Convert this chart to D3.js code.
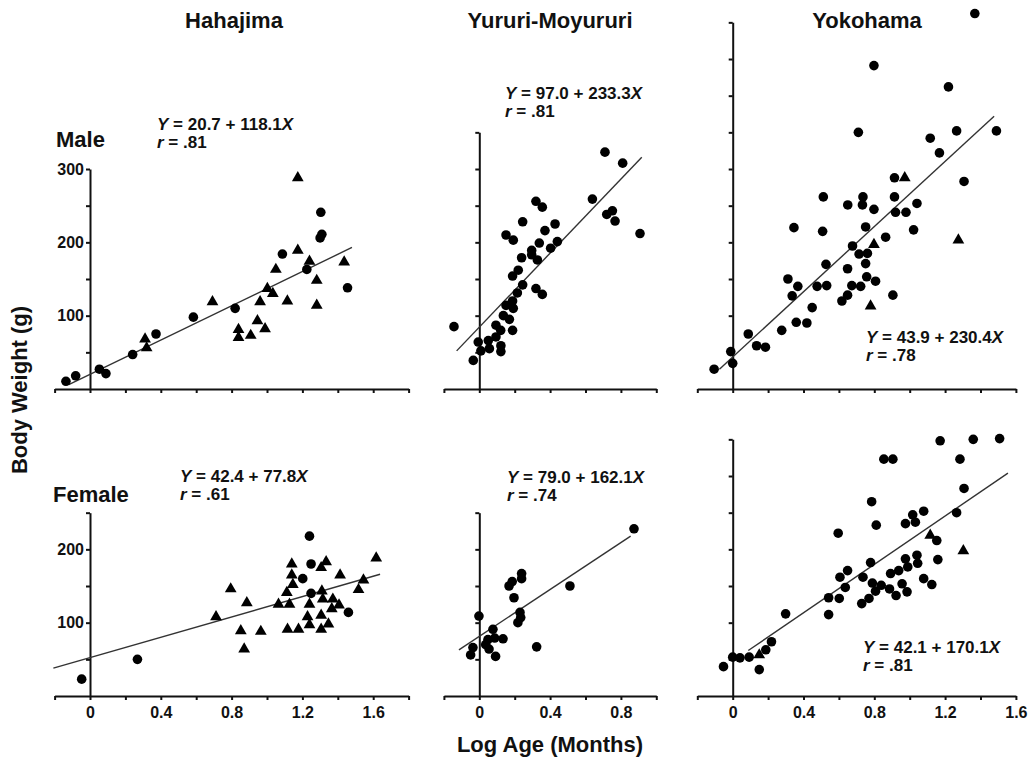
<!DOCTYPE html>
<html>
<head>
<meta charset="utf-8">
<script src="https://cdn.jsdelivr.net/npm/d3@7"></script>
<style>
  body { margin: 0; background: #fff; }
  svg text { font-family: "Liberation Sans", Arial, sans-serif; font-weight: bold; fill: #111; }
</style>
</head>
<body>
<div id="chart"></div>
<script>
// ---- data: [log age, body weight] ----
var hahaMaleCircles = [[-0.136,10.5],[-0.081,18],[0.053,27],[0.09,21],[0.241,47],[0.373,75],[0.584,98],
  [0.82,110],[1.087,184],[1.225,163],[1.30,206],[1.31,211],[1.304,241],[1.455,138]];
var hahaMaleTriangles = [[0.311,68],[0.32,56],[0.692,119],[0.839,81],[0.839,70],[0.908,73],[0.946,93],
  [0.961,119],[0.989,82],[1.002,137],[1.033,130],[1.05,163],[1.115,120],[1.174,288],[1.174,189],
  [1.24,174],[1.281,148],[1.281,114],[1.436,173]];

var yuruMaleCircles = [[-0.143,85],[-0.034,39],[-0.006,64],[0.009,52],[0.051,66],[0.057,55],[0.094,71],
  [0.094,87],[0.121,80],[0.122,59],[0.122,51],[0.136,100],[0.151,114],[0.170,95],[0.188,80],[0.192,110],
  [0.188,120],[0.188,154],[0.215,131],[0.220,162],[0.151,210],[0.192,203],[0.239,179],[0.245,142],
  [0.245,228],[0.296,189],[0.296,183],[0.32,256],[0.356,248],[0.328,176],[0.339,199],[0.32,137],
  [0.356,129],[0.371,216],[0.403,192],[0.428,225],[0.441,201],[0.639,259],[0.710,323],[0.720,238],
  [0.752,243],[0.767,229],[0.810,308],[0.908,212]];
var yuruMaleTriangles = [];

var yokoMaleCircles = [[-0.105,27],[-0.011,51],[0,35],[0.088,75],[0.135,59],[0.185,57],[0.277,80],
  [0.312,150],[0.336,127],[0.359,91],[0.368,140],[0.346,220],[0.419,90],[0.449,111],[0.477,140],
  [0.508,215],[0.512,262],[0.527,170],[0.531,141],[0.617,120],[0.649,128],[0.649,164],[0.650,251],
  [0.673,141],[0.677,195],[0.710,350],[0.714,184],[0.723,140],[0.733,251],[0.736,262],[0.751,221],
  [0.751,171],[0.761,185],[0.757,153],[0.798,441],[0.798,245],[0.807,147],[0.864,207],[0.905,128],
  [0.914,262],[0.914,288],[0.920,241],[0.979,241],[1.022,217],[1.041,253],[1.116,342],[1.168,322],
  [1.219,412],[1.265,352],[1.307,283],[1.368,512],[1.490,352]];
var yokoMaleTriangles = [[0.779,113],[0.798,197],[0.972,288],[1.275,203]];

var hahaFemaleCircles = [[-0.047,23],[0.268,50],[1.202,160],[1.240,218],[1.249,180],[1.249,140],[1.460,114]];
var hahaFemaleTriangles = [[0.712,108],[0.795,146],[0.886,127],[0.852,89],[0.871,64],[0.965,88],
  [1.065,125],[1.112,141],[1.116,91],[1.127,125],[1.140,180],[1.140,165],[1.146,152],[1.178,91],
  [1.229,108],[1.240,125],[1.240,97],[1.306,175],[1.310,143],[1.315,132],[1.306,110],[1.306,91],
  [1.334,183],[1.347,98],[1.366,119],[1.372,132],[1.407,124],[1.413,165],[1.517,145],[1.545,158],[1.617,188]];

var yuruFemaleCircles = [[-0.049,56],[-0.036,66],[-0.002,109],[0.036,70],[0.049,77],[0.055,64],[0.077,91],
  [0.087,79],[0.092,54],[0.134,78],[0.168,150],[0.186,156],[0.196,134],[0.218,100],[0.230,114],
  [0.234,107],[0.239,167],[0.239,160],[0.324,67],[0.512,150],[0.874,228]];
var yuruFemaleTriangles = [];

var yokoFemaleCircles = [[-0.052,40],[0,53],[0.041,52],[0.093,53],[0.150,36],[0.187,63],[0.219,74],
  [0.299,112],[0.542,111],[0.542,134],[0.596,222],[0.602,133],[0.606,162],[0.636,148],[0.649,171],
  [0.729,126],[0.736,162],[0.770,133],[0.779,182],[0.785,265],[0.789,154],[0.807,143],[0.811,233],
  [0.839,151],[0.854,323],[0.886,146],[0.892,167],[0.905,323],[0.923,137],[0.938,171],[0.957,153],
  [0.976,187],[0.976,235],[0.985,142],[0.989,176],[1.017,247],[1.032,237],[1.041,192],[1.045,181],
  [1.079,160],[1.079,252],[1.125,152],[1.153,212],[1.159,186],[1.172,348],[1.265,250],[1.284,323],
  [1.307,283],[1.359,350],[1.508,351]];
var yokoFemaleTriangles = [[0.150,56],[1.116,219],[1.303,198]];

// fitted lines as drawn: [x0, y0, x1, y1]
var fitLines = [[-0.12,6,1.48,193],[-0.128,52,0.918,316],[-0.075,27,1.477,372],
  [-0.207,38,1.639,166],[-0.115,63,0.855,218],[0.088,62,1.555,304]];
var fitEquations = [["20.7","118.1",".81"],["97.0","233.3",".81"],["43.9","230.4",".78"],
  ["42.4","77.8",".61"],["79.0","162.1",".74"],["42.1","170.1",".81"]];

var siteNames = ["Hahajima", "Yururi-Moyururi", "Yokohama"];
var sexNames = ["Male", "Female"];
var xMaxes = [1.8, 1.0, 1.6];          // right end of each column's x axis
var yMaxesMale = [300, 350, 500];
var yMaxesFemale = [250, 250, 350];
var xLabelValues = [0, 0.4, 0.8, 1.2, 1.6];
var yLabelValues = [100, 200, 300];

var width = 1031, height = 758;
var svg = d3.select("#chart").append("svg")
  .attr("width", width).attr("height", height);

// layout
var colZero = [90, 479.3, 732.7];   // pixel of x = 0 in each column
var pxPerX = 177;
var pxPerY = 0.7333;
var rowBase = [389, 696];           // pixel of the x axis in each row
// equation text anchors [x, baseline]
var eqPos = [[157,130],[505,99],[866,343],[180,482],[507,483],[863,653]];

var panels = [
  [hahaMaleCircles, hahaMaleTriangles], [yuruMaleCircles, yuruMaleTriangles], [yokoMaleCircles, yokoMaleTriangles],
  [hahaFemaleCircles, hahaFemaleTriangles], [yuruFemaleCircles, yuruFemaleTriangles], [yokoFemaleCircles, yokoFemaleTriangles]
];

var triangle = d3.symbol().type(d3.symbolTriangle).size(60);

panels.forEach(function(p, i) {
  var col = i % 3, row = Math.floor(i / 3);
  var yMax = row == 0 ? yMaxesMale[col] : yMaxesFemale[col];
  var base = rowBase[row];

  var x = d3.scaleLinear().domain([-0.2, xMaxes[col]])
    .range([colZero[col] - 0.2 * pxPerX, colZero[col] + xMaxes[col] * pxPerX]);
  var y = d3.scaleLinear().domain([0, yMax]).range([base, base - yMax * pxPerY]);

  var g = svg.append("g");

  // x axis, ticks every 0.2
  var xTicks = d3.range(-0.2, xMaxes[col] + 0.001, 0.2).map(function(v) { return Math.round(v * 10) / 10; });
  var xAxis = d3.axisBottom(x).tickValues(xTicks).tickSize(4).tickSizeOuter(0).tickPadding(7)
    .tickFormat(function(d) {
      if (row == 0) return "";
      return xLabelValues.indexOf(d) >= 0 ? d3.format("")(d) : "";
    });
  g.append("g").attr("transform", "translate(0," + base + ")").call(xAxis);

  // y axis at x = 0, ticks every 50
  var yTicks = d3.range(50, yMax + 1, 50);
  var yAxis = d3.axisLeft(y).tickValues(yTicks).tickSize(4).tickSizeOuter(0).tickPadding(2)
    .tickFormat(function(d) {
      if (col != 0) return "";
      return yLabelValues.indexOf(d) >= 0 ? d : "";
    });
  g.append("g").attr("transform", "translate(" + x(0) + ",0)").call(yAxis);

  g.selectAll(".domain").attr("stroke", "#111").attr("stroke-width", 2);
  g.selectAll(".tick line").attr("stroke", "#111").attr("stroke-width", 2);
  g.selectAll(".tick text").style("font-size", "16px").attr("fill", "#111")
    .style("font-family", "'Liberation Sans', Arial, sans-serif").style("font-weight", "bold");

  // fitted line
  var f = fitLines[i];
  g.append("line")
    .attr("x1", x(f[0])).attr("y1", y(f[1]))
    .attr("x2", x(f[2])).attr("y2", y(f[3]))
    .attr("stroke", "#333").attr("stroke-width", 1.4);

  // circles
  g.selectAll(".dot").data(p[0]).enter().append("circle")
    .attr("cx", function(d) { return x(d[0]); })
    .attr("cy", function(d) { return y(d[1]); })
    .attr("r", 4.8)
    .attr("fill", "#000");

  // triangles
  g.selectAll(".tri").data(p[1]).enter().append("path")
    .attr("d", triangle)
    .attr("transform", function(d) { return "translate(" + x(d[0]) + "," + y(d[1]) + ")"; })
    .attr("fill", "#000");

  // equation + r
  var eq = fitEquations[i];
  var t = g.append("text").attr("x", eqPos[i][0]).attr("y", eqPos[i][1]).style("font-size", "17px");
  t.append("tspan").style("font-style", "italic").text("Y");
  t.append("tspan").text(" = " + eq[0] + " + " + eq[1]);
  t.append("tspan").style("font-style", "italic").text("X");
  var r = g.append("text").attr("x", eqPos[i][0]).attr("y", eqPos[i][1] + 17.5).style("font-size", "17px");
  r.append("tspan").style("font-style", "italic").text("r");
  r.append("tspan").text(" = " + eq[2]);
});

// column titles
var titleX = [234, 550, 867];
siteNames.forEach(function(s, i) {
  svg.append("text").text(s)
    .attr("x", titleX[i]).attr("y", 28)
    .attr("text-anchor", "middle")
    .style("font-size", "22px");
});

// row labels
svg.append("text").text(sexNames[0]).attr("x", 56).attr("y", 147).style("font-size", "22px");
svg.append("text").text(sexNames[1]).attr("x", 53).attr("y", 502).style("font-size", "22px");

// axis titles
svg.append("text").text("Body Weight (g)")
  .attr("transform", "translate(27,390) rotate(-90)")
  .attr("text-anchor", "middle")
  .style("font-size", "22px");

svg.append("text").text("Log Age (Months)")
  .attr("x", 550).attr("y", 752)
  .attr("text-anchor", "middle")
  .style("font-size", "22px");
</script>
</body>
</html>
